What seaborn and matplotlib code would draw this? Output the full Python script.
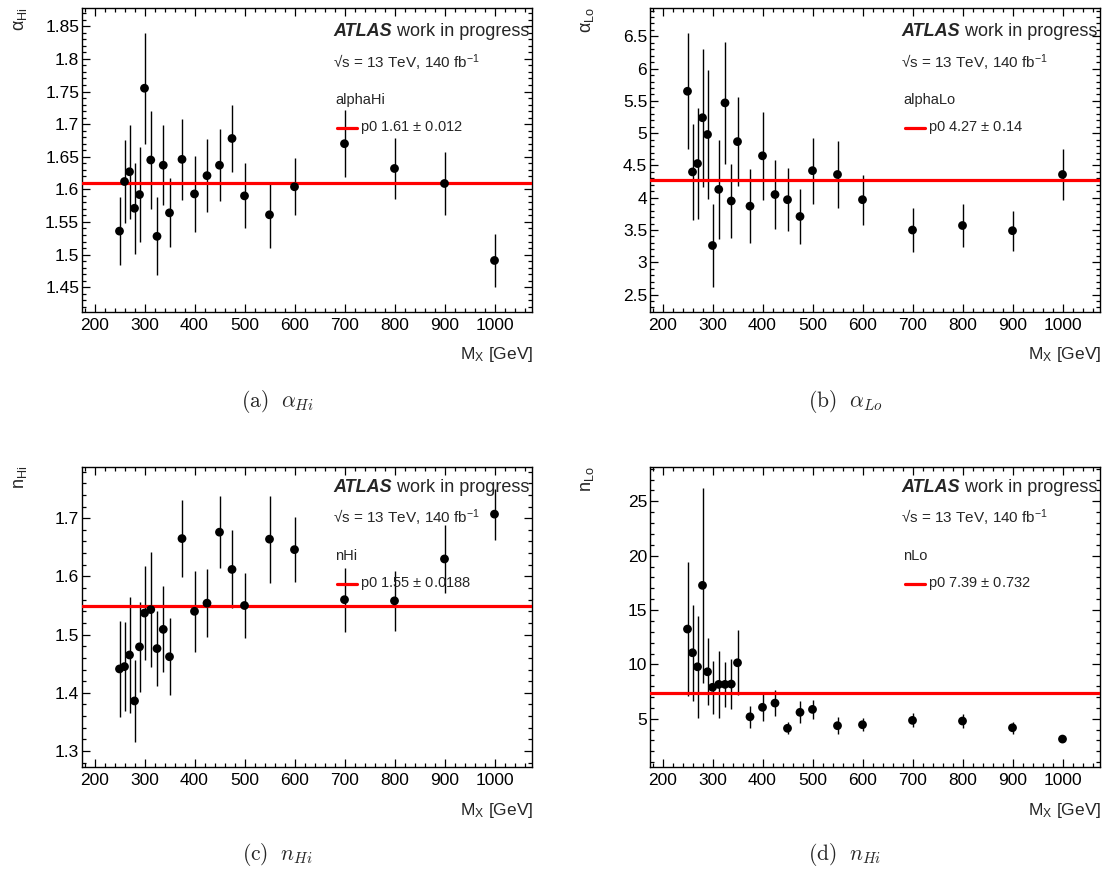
import matplotlib
matplotlib.use("Agg")
import matplotlib.pyplot as plt
from matplotlib.lines import Line2D
from matplotlib.ticker import MultipleLocator, FuncFormatter
import seaborn as sns

# signal mass points [GeV]
mass = [250, 260, 270, 280, 290, 300, 312.5, 325, 337.5, 350, 375, 400,
        425, 450, 475, 500, 550, 600, 700, 800, 900, 1000]

alpha_hi = [1.536, 1.612, 1.627, 1.571, 1.592, 1.755, 1.645, 1.528, 1.637, 1.564, 1.646,
            1.593, 1.621, 1.637, 1.678, 1.590, 1.561, 1.604, 1.670, 1.632, 1.609, 1.491]
alpha_hi_err = [0.052, 0.063, 0.072, 0.070, 0.073, 0.085, 0.075, 0.060, 0.061, 0.053, 0.062,
                0.058, 0.056, 0.055, 0.052, 0.050, 0.051, 0.044, 0.051, 0.047, 0.048, 0.041]

alpha_lo = [5.65, 4.40, 4.53, 5.24, 4.98, 3.26, 4.13, 5.47, 3.95, 4.87, 3.87,
            4.65, 4.05, 3.97, 3.71, 4.42, 4.36, 3.97, 3.50, 3.57, 3.49, 4.36]
alpha_lo_err = [0.90, 0.74, 0.86, 1.07, 1.00, 0.64, 0.77, 0.94, 0.58, 0.69, 0.57,
                0.68, 0.53, 0.49, 0.43, 0.51, 0.52, 0.39, 0.34, 0.33, 0.31, 0.39]

n_hi = [1.441, 1.445, 1.465, 1.386, 1.479, 1.537, 1.543, 1.476, 1.509, 1.462, 1.665,
        1.540, 1.554, 1.676, 1.612, 1.550, 1.664, 1.646, 1.560, 1.558, 1.630, 1.707]
n_hi_err = [0.082, 0.076, 0.100, 0.070, 0.077, 0.081, 0.099, 0.065, 0.074, 0.066, 0.066,
            0.070, 0.058, 0.062, 0.067, 0.055, 0.075, 0.056, 0.055, 0.052, 0.058, 0.044]

n_lo = [13.25, 11.07, 9.78, 17.27, 9.32, 7.89, 8.16, 8.16, 8.19, 10.15, 5.18,
        6.05, 6.44, 4.12, 5.59, 5.86, 4.36, 4.45, 4.85, 4.79, 4.17, 3.13]
n_lo_err = [6.2, 4.4, 4.7, 9.0, 3.1, 2.45, 3.1, 2.1, 2.3, 3.0, 1.0,
            1.3, 1.2, 0.55, 1.0, 0.9, 0.77, 0.6, 0.65, 0.65, 0.55, 0.2]

# constant fits (p0 and its uncertainty as printed)
fit_p0 = [1.61, 4.27, 1.55, 7.39]
fit_err = ["0.012", "0.14", "0.0188", "0.732"]
names = ["alphaHi", "alphaLo", "nHi", "nLo"]
ylabels = ["α$_{\\mathrm{Hi}}$", "α$_{\\mathrm{Lo}}$", "n$_{\\mathrm{Hi}}$", "n$_{\\mathrm{Lo}}$"]
captions = [r"$\mathrm{(a)}\ \ \alpha_{Hi}$", r"$\mathrm{(b)}\ \ \alpha_{Lo}$",
            r"$\mathrm{(c)}\ \ n_{Hi}$", r"$\mathrm{(d)}\ \ n_{Hi}$"]
ylims = [(1.412, 1.878), (2.23, 6.94), (1.2725, 1.788), (0.56, 28.16)]
ymajor = [0.05, 0.5, 0.1, 5]
yminor = [0.01, 0.1, 0.02, 1]

values = [alpha_hi, alpha_lo, n_hi, n_lo]
errors = [alpha_hi_err, alpha_lo_err, n_hi_err, n_lo_err]

sns.set_theme(style="ticks")
plt.rcParams["font.family"] = ["Liberation Sans", "DejaVu Sans"]
plt.rcParams["mathtext.fontset"] = "custom"
plt.rcParams["mathtext.rm"] = "Liberation Sans"
plt.rcParams["mathtext.it"] = "Liberation Sans:italic"
plt.rcParams["mathtext.bf"] = "Liberation Sans:bold"

W, H = 1105, 874
fig = plt.figure(figsize=(W / 100, H / 100), dpi=100)
fig.patch.set_facecolor("white")


def fx(px):
    return px / W


def fy(py):
    return 1 - py / H


# pixel boxes of the four frames: left, right, top, bottom
boxes = [(82, 532, 8, 312), (650, 1100, 8, 312), (82, 532, 467, 767), (650, 1100, 467, 767)]

for i in range(4):
    l, r, t, b = boxes[i]
    ax = fig.add_axes([fx(l), fy(b), (r - l) / W, (b - t) / H])
    ax.set_facecolor("white")

    ax.errorbar(mass, values[i], yerr=errors[i], fmt="none", ecolor="black",
                elinewidth=1.0, capsize=0, zorder=2)
    ax.axhline(fit_p0[i], color="#ff0000", lw=2.3, zorder=3)
    sns.scatterplot(x=mass, y=values[i], ax=ax, color="black", s=40,
                    edgecolor="none", zorder=4, legend=False)

    ax.set_xlim(175, 1075)
    ax.set_ylim(*ylims[i])
    ax.xaxis.set_major_locator(MultipleLocator(100))
    ax.xaxis.set_minor_locator(MultipleLocator(20))
    ax.yaxis.set_major_locator(MultipleLocator(ymajor[i]))
    ax.yaxis.set_minor_locator(MultipleLocator(yminor[i]))
    ax.yaxis.set_major_formatter(FuncFormatter(lambda v, p: "%g" % round(v, 4)))
    ax.xaxis.set_major_formatter(FuncFormatter(lambda v, p: "%g" % v))
    ax.tick_params(which="both", direction="in", top=True, right=True,
                   width=0.9, colors="black", labelsize=12.5)
    ax.tick_params(which="major", length=6)
    ax.tick_params(which="minor", length=3)
    ax.tick_params(axis="x", pad=4)
    ax.tick_params(axis="y", pad=2)
    for s in ax.spines.values():
        s.set_linewidth(1.0)
        s.set_color("black")
    ax.set_xlabel("")
    ax.set_ylabel("")

    # ROOT-style labels
    fig.text(fx(l - 62), fy(t - 1), ylabels[i], rotation=90, ha="center", va="top",
             fontsize=13)
    fig.text(fx(r + 1), fy(b + 43), "M$_{\\mathrm{X}}$ [GeV]", ha="right", va="center",
             fontsize=12.5)

    # header texts
    tx = l + 251
    rows = (32, 63, 100, 128) if t < 100 else (487, 518, 556, 584)
    atl = fig.text(fx(tx), fy(rows[0]), "ATLAS", fontsize=13, fontweight="bold",
                   fontstyle="italic", ha="left", va="center")
    ax.annotate(" work in progress", xy=(1, 0), xycoords=atl, fontsize=13,
                ha="left", va="bottom", annotation_clip=False)
    fig.text(fx(tx), fy(rows[1]), "√s = 13 TeV, 140 fb$^{\\mathrm{-1}}$", fontsize=11,
             ha="left", va="center")
    fig.text(fx(tx + 2), fy(rows[2]), names[i], fontsize=10.5, ha="left", va="center")
    fig.add_artist(Line2D([fx(tx + 4), fx(tx + 24)], [fy(rows[3]), fy(rows[3])],
                          color="#ff0000", lw=2.3, transform=fig.transFigure))
    fig.text(fx(tx + 27), fy(rows[3]), "p0 %g $\\pm$ %s" % (fit_p0[i], fit_err[i]),
             fontsize=10.5, ha="left", va="center")

    # subfigure caption
    cx = 277 if l < 300 else 845
    cy = 402 if t < 100 else 855
    fig.text(fx(cx), fy(cy), captions[i], ha="center", va="center", fontsize=15.5,
             math_fontfamily="cm")

fig.savefig("out.png", dpi=100, facecolor="white")
